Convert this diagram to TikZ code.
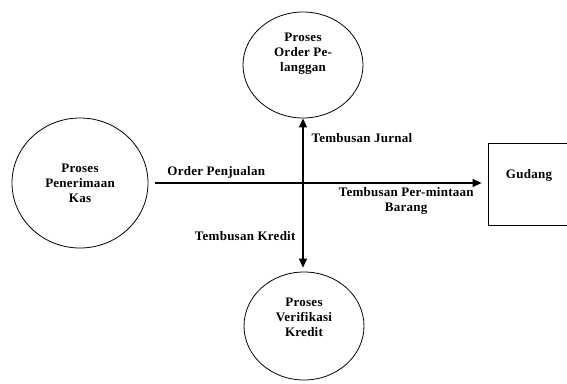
\documentclass[tikz,border=0pt]{standalone}
\usepackage{fontspec}
\setmainfont{Liberation Serif}
\newfontfamily\dfdfont[LetterSpace=2]{Liberation Serif}
\usepackage{tikz}
\usetikzlibrary{positioning,arrows.meta,shapes.geometric}

\begin{document}
\begin{tikzpicture}[x=1pt,y=-1pt,line width=0.8pt]
	\tikzstyle{proc}=[draw, ellipse, inner sep=0pt, align=center, font=\dfdfont\bfseries\fontsize{13}{15}\selectfont]
	\tikzstyle{store}=[draw, rectangle, inner sep=0pt, font=\dfdfont\bfseries\fontsize{13}{15}\selectfont]
	\tikzstyle{lbl}=[inner sep=0pt, align=center, font=\dfdfont\bfseries\fontsize{13}{15}\selectfont]
	\tikzstyle{flow}=[-{Triangle[length=9pt,width=8pt]}, line width=1.1pt]

	\useasboundingbox (0,0) rectangle (567,383);

	\node[proc, minimum width=136pt, minimum height=130pt] (kas) at (80,183) {Proses\\Penerimaan\\Kas};
	\node[proc, minimum width=120pt, minimum height=106pt, text height=40pt, text depth=28pt] (order) at (303,65) {Proses\\Order Pe-\\langgan};
	\node[proc, minimum width=120pt, minimum height=108pt, text height=40pt, text depth=20pt] (verif) at (304,326) {Proses\\Verifikasi\\Kredit};
	\node[store, minimum width=82pt, minimum height=82pt, text height=8pt, text depth=20pt] (gudang) at (529,184) {Gudang};

	\draw[flow, shorten <=7pt, shorten >=6pt] (kas.east) -- (kas.east -| gudang.west)
		node[lbl, pos=0.2, above=4.5pt] (penjualan) {Order Penjualan}
		node[lbl, pos=0.76, below=4pt] (permintaan) {Tembusan Per-mintaan\\Barang};
	\draw[flow, {Triangle[length=9pt,width=8pt]}-{Triangle[length=9pt,width=8pt]}, shorten >=4pt] (order.south) -- (order.south |- verif.north)
		node[lbl, pos=0.13, right=8pt] (jurnal) {Tembusan Jurnal}
		node[lbl, pos=0.77, left=7pt] (kredit) {Tembusan Kredit};

\end{tikzpicture}
\end{document}
